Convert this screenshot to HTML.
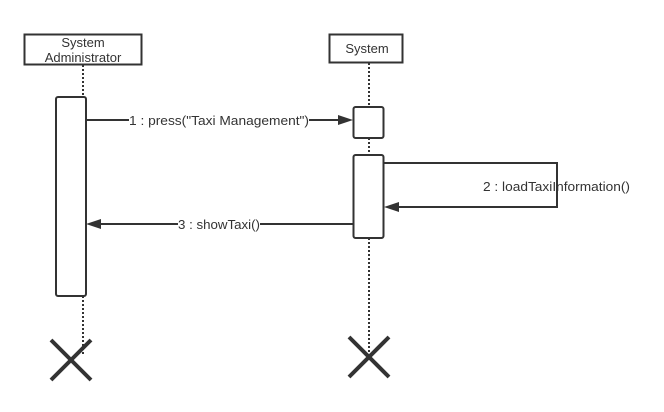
<!DOCTYPE html>
<html><head><style>body{margin:0;background:#fff}svg{display:block}text{font-family:"Liberation Sans",sans-serif;font-size:13px;fill:#333}</style></head>
<body>
<svg width="664" height="412" xmlns="http://www.w3.org/2000/svg">
<g stroke="#333" fill="none">
<line x1="83" y1="65" x2="83" y2="97" stroke-width="2" stroke-dasharray="2,2"/>
<line x1="83" y1="296" x2="83" y2="355" stroke-width="2" stroke-dasharray="2,2"/>
<line x1="369" y1="63" x2="369" y2="107" stroke-width="2" stroke-dasharray="2,2"/>
<line x1="369" y1="138" x2="369" y2="155" stroke-width="2" stroke-dasharray="2,2"/>
<line x1="369" y1="238" x2="369" y2="355" stroke-width="2" stroke-dasharray="2,2"/>
<rect x="24.5" y="34.5" width="117" height="30" fill="#fff" stroke-width="2"/>
<rect x="329.5" y="34.5" width="73" height="28" fill="#fff" stroke-width="2"/>
<rect x="56" y="97" width="30" height="199" rx="2" fill="#fff" stroke-width="2"/>
<rect x="353.5" y="107" width="30" height="31" rx="2" fill="#fff" stroke-width="2"/>
<rect x="353.5" y="155" width="30" height="83" rx="2" fill="#fff" stroke-width="2"/>
<line x1="86" y1="120" x2="340" y2="120" stroke-width="2"/>
<polyline points="384,163 557,163 557,207 398,207" stroke-width="2"/>
<line x1="353" y1="224" x2="100" y2="224" stroke-width="2"/>
<line x1="51" y1="340" x2="91" y2="380" stroke-width="4"/>
<line x1="91" y1="340" x2="51" y2="380" stroke-width="4"/>
<line x1="349" y1="337" x2="389" y2="377" stroke-width="4"/>
<line x1="389" y1="337" x2="349" y2="377" stroke-width="4"/>
</g>
<g fill="#333">
<polygon points="353,120 338,115 338,125"/>
<polygon points="384,207 399,202 399,212"/>
<polygon points="86,224 101,219 101,229"/>
</g>
<rect x="129" y="112" width="180" height="16" fill="#fff"/>
<rect x="178" y="216" width="82" height="16" fill="#fff"/>
<text x="83" y="47" text-anchor="middle">System</text>
<text x="83" y="62" text-anchor="middle">Administrator</text>
<text x="367" y="53" text-anchor="middle">System</text>
<text x="129" y="125" textLength="180" lengthAdjust="spacingAndGlyphs">1 : press("Taxi Management")</text>
<text x="483" y="191" textLength="147" lengthAdjust="spacingAndGlyphs">2 : loadTaxiInformation()</text>
<text x="178" y="229" textLength="82" lengthAdjust="spacingAndGlyphs">3 : showTaxi()</text>
</svg>
</body></html>
